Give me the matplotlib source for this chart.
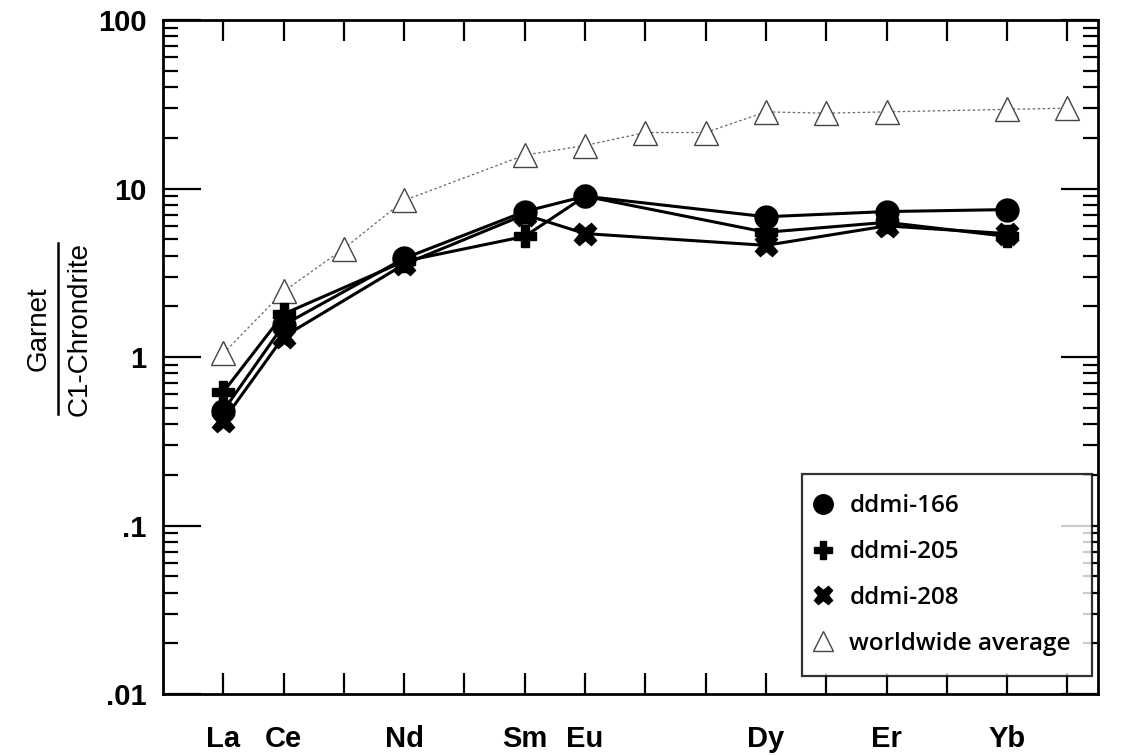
import matplotlib
matplotlib.use('Agg')
import matplotlib.pyplot as plt
from matplotlib.lines import Line2D
from matplotlib.ticker import FixedLocator, FixedFormatter, LogLocator, NullFormatter

# REE patterns normalised to C1 chondrite
elements = ['La', 'Ce', 'Pr', 'Nd', 'Pm', 'Sm', 'Eu', 'Gd', 'Tb', 'Dy', 'Ho', 'Er', 'Tm', 'Yb', 'Lu']
shown_labels = ['La', 'Ce', 'Nd', 'Sm', 'Eu', 'Dy', 'Er', 'Yb']

sample_elems = ['La', 'Ce', 'Nd', 'Sm', 'Eu', 'Dy', 'Er', 'Yb']
ddmi_166 = [0.48, 1.55, 3.85, 7.3, 9.0, 6.8, 7.3, 7.5]
ddmi_205 = [0.62, 1.8, 3.7, 5.2, 9.0, 5.5, 6.3, 5.2]
ddmi_208 = [0.42, 1.32, 3.55, 7.0, 5.4, 4.6, 6.0, 5.4]

avg_elems = ['La', 'Ce', 'Pr', 'Nd', 'Sm', 'Eu', 'Gd', 'Tb', 'Dy', 'Ho', 'Er', 'Yb', 'Lu']
worldwide = [1.05, 2.45, 4.4, 8.5, 15.8, 18.0, 21.5, 21.5, 28.5, 28.0, 28.5, 29.5, 30.0]

y_ticks = [0.01, 0.1, 1, 10, 100]
y_tick_labels = ['.01', '.1', '1', '10', '100']

pos = {e: i + 1 for i, e in enumerate(elements)}
xs = [pos[e] for e in sample_elems]
xa = [pos[e] for e in avg_elems]

fig = plt.figure(figsize=(11.28, 7.56), dpi=100)
ax = fig.add_axes([0.1445, 0.082, 0.8285, 0.8915])

ax.plot(xa, worldwide, color='#666666', lw=0.9, ls=(0, (2, 2)), marker='^',
        ms=17, mfc='white', mec='#444444', mew=1.0, label='worldwide average', zorder=2)
ax.plot(xs, ddmi_166, color='black', lw=2.2, marker='o', ms=16.5,
        mfc='black', mec='black', label='ddmi-166', zorder=3)
ax.plot(xs, ddmi_205, color='black', lw=2.2, marker='P', ms=16,
        mfc='black', mec='black', label='ddmi-205', zorder=3)
ax.plot(xs, ddmi_208, color='black', lw=2.2, marker='X', ms=16,
        mfc='black', mec='black', label='ddmi-208', zorder=3)

ax.set_yscale('log')
ax.set_ylim(0.01, 100)
ax.set_xlim(0, 15.5)

ax.yaxis.set_major_locator(FixedLocator(y_ticks))
ax.yaxis.set_major_formatter(FixedFormatter(y_tick_labels))
ax.yaxis.set_minor_locator(LogLocator(base=10, subs=range(2, 10)))
ax.yaxis.set_minor_formatter(NullFormatter())

ax.set_xticks(range(1, len(elements) + 1))
ax.set_xticklabels([e if e in shown_labels else '' for e in elements])

ax.tick_params(axis='both', which='both', direction='in', top=True, right=True)
ax.tick_params(axis='x', which='major', length=15, width=1.6, pad=22)
ax.tick_params(axis='y', which='major', length=27, width=1.6, pad=12)
ax.tick_params(axis='y', which='minor', length=11, width=1.6)
for lab in ax.get_xticklabels() + ax.get_yticklabels():
    lab.set_fontfamily('Liberation Sans')
    lab.set_fontweight('bold')
    lab.set_fontsize(21)

for sp in ax.spines.values():
    sp.set_linewidth(2)

# stacked fraction as the y-axis title
fig.text(0.034, 0.565, 'Garnet', rotation=90, ha='center', va='center',
         fontsize=20, family='Liberation Sans')
fig.text(0.071, 0.565, 'C1-Chrondrite', rotation=90, ha='center', va='center',
         fontsize=20, family='Liberation Sans')
fig.add_artist(Line2D([0.051, 0.051], [0.452, 0.678], color='black', lw=1.8,
                      transform=fig.transFigure))

handles, labels = ax.get_legend_handles_labels()
order = [1, 2, 3, 0]
leg = ax.legend([handles[i] for i in order], [labels[i] for i in order],
                loc='lower right', bbox_to_anchor=(0.9936, 0.026), borderaxespad=0,
                frameon=True, fancybox=False, edgecolor='black', handlelength=0,
                handletextpad=1.1, labelspacing=0.9, borderpad=0.85,
                prop={'family': 'Open Sans', 'size': 17.5, 'weight': 'semibold'},
                markerscale=0.85)
leg.get_frame().set_linewidth(1.6)
for h in leg.legend_handles:
    h.set_linestyle('none')

fig.savefig('out.png', dpi=100)
